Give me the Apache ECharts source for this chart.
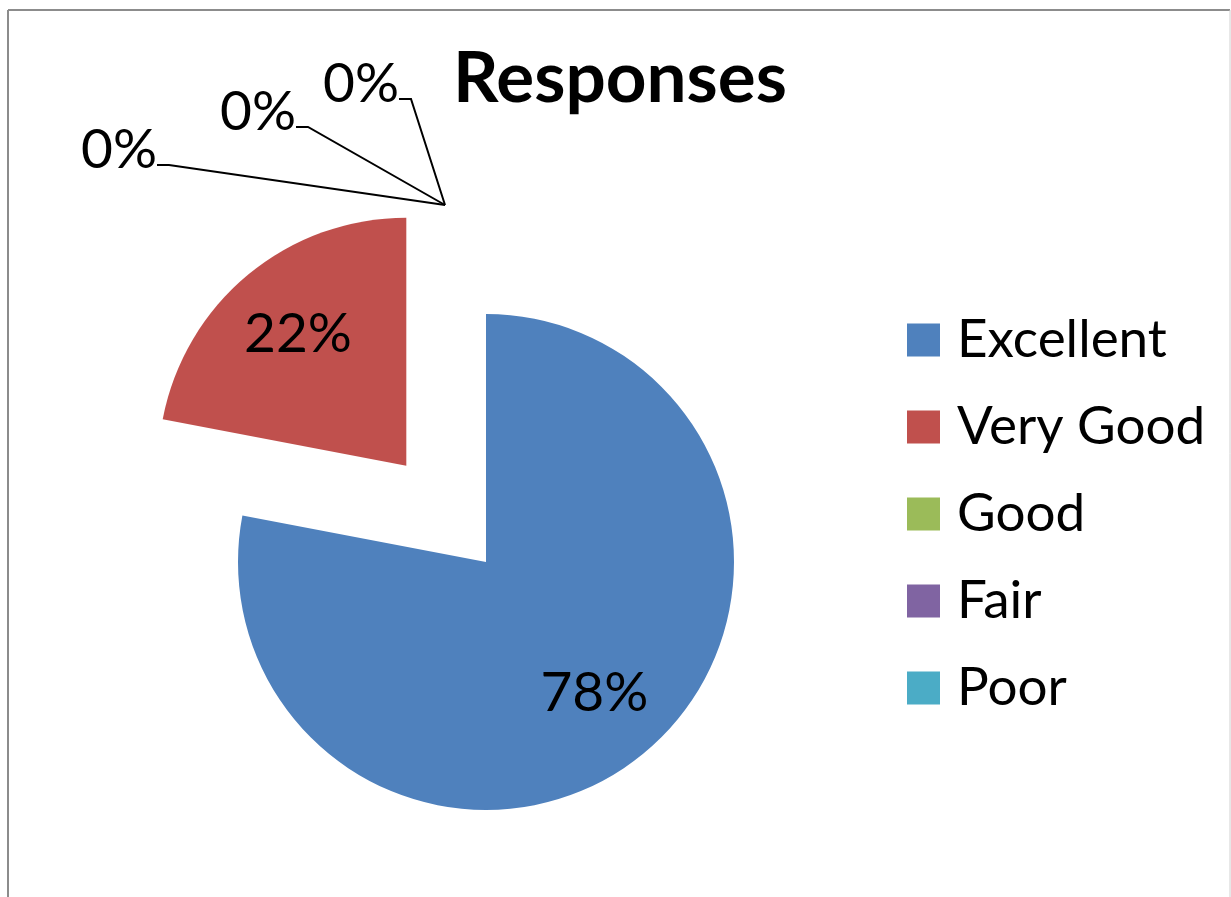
<!DOCTYPE html>
<html>
<head>
<meta charset="utf-8">
<script src="https://cdn.jsdelivr.net/npm/echarts@6/dist/echarts.min.js"></script>
<style>
html,body{margin:0;padding:0;background:#fff;}
#chart{width:1231px;height:897px;}
</style>
</head>
<body>
<div id="chart"></div>
<script>
// ---- data ----
const categories = ['Excellent', 'Very Good', 'Good', 'Fair', 'Poor'];
const percentages = [78, 22, 0, 0, 0];
const explodedCategory = 'Very Good';
const chartTitle = 'Responses';

// ---- styles ----
const COLORS = ['#4F81BD', '#C0504D', '#9BBB59', '#8064A2', '#4BACC6'];
const FONT = 'Lato, "Open Sans", sans-serif';
const CENTER = [486, 562];
const RADIUS = 248;
const EXPLODE = 125;
// hub where the leader lines of the zero-size slices meet (a transparent pie whose top edge is there)
const ZERO_HUB_CENTER = [445, 453];
// right/top corner of each zero label box
const ZERO_LABEL_SPOTS = { 2: [157, 122], 3: [296, 84], 4: [399, 56] };

const chart = echarts.init(document.getElementById('chart'), null, { renderer: 'canvas' });

function buildData(showLabel) {
  return categories.map((name, i) => ({
    name: name,
    value: percentages[i],
    selected: name === explodedCategory,
    label: { show: showLabel(percentages[i]) },
    labelLine: { show: showLabel(percentages[i]) }
  }));
}

const option = {
  animation: false,
  color: COLORS,
  title: {
    text: chartTitle,
    left: 453,
    top: 44,
    padding: 0,
    textStyle: { fontFamily: FONT, fontWeight: 'bold', fontSize: 71, color: '#000' }
  },
  legend: {
    orient: 'vertical',
    left: 907,
    top: 313,
    itemWidth: 33,
    itemHeight: 33,
    itemGap: 33,
    icon: 'rect',
    padding: 0,
    selectedMode: false,
    data: categories,
    textStyle: { fontFamily: FONT, fontSize: 53, lineHeight: 54, color: '#000', padding: [0, 0, 0, 12] }
  },
  graphic: [
    { type: 'line', shape: { x1: 8, y1: 10, x2: 1230, y2: 10 }, style: { stroke: '#8c8c8c', lineWidth: 2 } },
    { type: 'line', shape: { x1: 8, y1: 10, x2: 8, y2: 897 }, style: { stroke: '#8c8c8c', lineWidth: 2 } },
    { type: 'line', shape: { x1: 1230, y1: 10, x2: 1230, y2: 897 }, style: { stroke: '#d0d0d0', lineWidth: 1 } }
  ],
  series: [
    {
      // visible slices
      type: 'pie',
      name: 'main',
      center: CENTER,
      radius: [0, RADIUS],
      startAngle: 90,
      clockwise: true,
      selectedMode: 'single',
      selectedOffset: EXPLODE,
      percentPrecision: 0,
      silent: true,
      itemStyle: { borderWidth: 0 },
      emphasis: { disabled: true },
      label: { show: false },
      labelLine: { show: false },
      data: buildData(() => false)
    },
    {
      // inside percentage labels of non-zero slices
      type: 'pie',
      name: 'insideLabels',
      center: CENTER,
      radius: [86, RADIUS],
      startAngle: 90,
      clockwise: true,
      selectedMode: 'single',
      selectedOffset: EXPLODE,
      percentPrecision: 0,
      silent: true,
      emphasis: { disabled: true },
      itemStyle: { color: 'rgba(0,0,0,0)', borderWidth: 0 },
      label: {
        position: 'inside',
        formatter: '{d}%',
        fontFamily: FONT,
        fontSize: 55,
        color: '#000'
      },
      labelLine: { show: false },
      data: buildData(v => v !== 0)
    },
    {
      // outside labels of zero-size slices with leader lines
      type: 'pie',
      name: 'zeroLabels',
      center: ZERO_HUB_CENTER,
      radius: [0, RADIUS],
      startAngle: 90,
      clockwise: true,
      percentPrecision: 0,
      silent: true,
      avoidLabelOverlap: false,
      emphasis: { disabled: true },
      itemStyle: { color: 'rgba(0,0,0,0)', borderWidth: 0 },
      label: {
        position: 'outside',
        formatter: '{d}%',
        fontFamily: FONT,
        fontSize: 55,
        lineHeight: 56,
        color: '#000',
        padding: [0, 0, 30, 120]
      },
      labelLine: {
        length: 20,
        length2: 12,
        lineStyle: { color: '#000', width: 2 }
      },
      labelLayout: function (p) {
        const spot = ZERO_LABEL_SPOTS[p.dataIndex];
        if (!spot) return {};
        return { x: spot[0], y: spot[1], align: 'right', verticalAlign: 'top' };
      },
      data: buildData(v => v === 0).map(d => Object.assign(d, { selected: false }))
    }
  ]
};
chart.setOption(option);
</script>
</body>
</html>
